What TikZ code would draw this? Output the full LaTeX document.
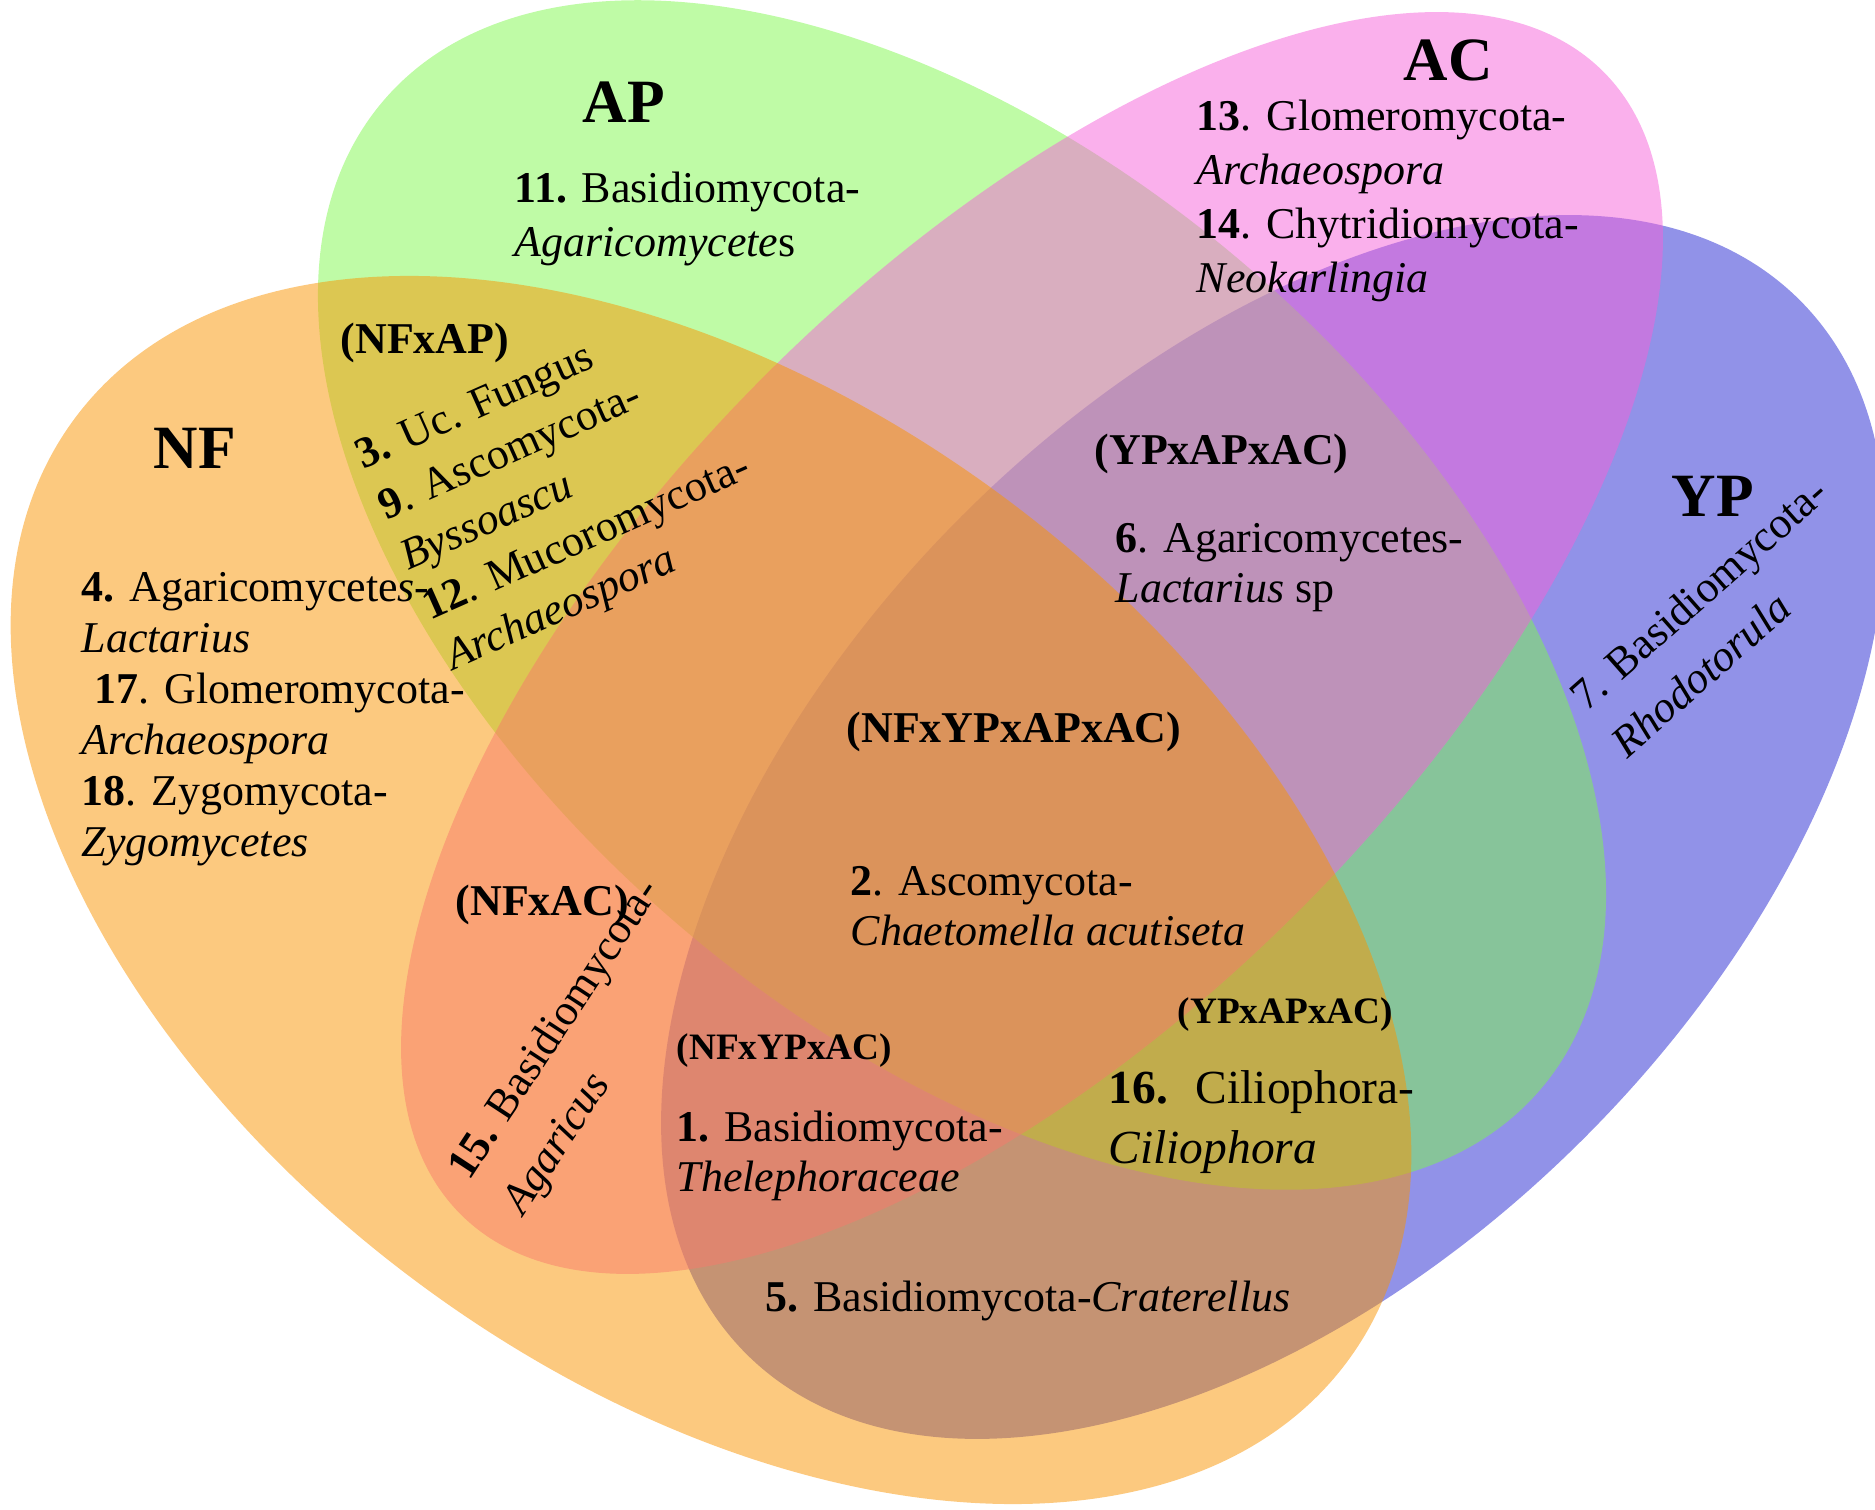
\documentclass[tikz,border=0pt]{standalone}
\usepackage{fontspec}
\setmainfont{Liberation Serif}
\usepackage{xcolor}
\usepackage{tikz}
\definecolor{nfcolor}{RGB}{250,148,0}
\definecolor{apcolor}{RGB}{127,247,77}
\definecolor{accolor}{RGB}{245,97,217}
\definecolor{ypcolor}{RGB}{35,37,209}
\tikzset{
    setarea/.style = {fill opacity=0.5, draw=none},
    setname/.style = {font=\fontsize{17.5}{20}\selectfont\bfseries, inner sep=0},
    overlap/.style = {font=\fontsize{12.5}{15}\selectfont\bfseries, inner sep=0, anchor=west},
    smalloverlap/.style = {font=\fontsize{10.6}{13}\selectfont\bfseries, inner sep=0, anchor=west},
    taxa/.style = {align=left, inner sep=0, anchor=north west, font=\fontsize{12.5}{14.5}\selectfont}
}

\begin{document}
\begin{tikzpicture}[x=0.01cm, y=-0.01cm]
    \useasboundingbox (0,0) rectangle (1875,1510);

    % Sets
    \fill [setarea, ypcolor, rotate around={45:(1273,827)}] (1273,827) ellipse [x radius=745, y radius=440];
    \fill [setarea, apcolor, rotate around={-40.5:(962,595)}] (962,595) ellipse [x radius=761, y radius=435];
    \fill [setarea, accolor, rotate around={45:(1032,643)}] (1032,643) ellipse [x radius=808, y radius=378];
    \fill [setarea, nfcolor, rotate around={-36.5:(711,890)}] (711,890) ellipse [x radius=792, y radius=490];

    % Set names
    \node [setname] (nf) at (195,448) {NF};
    \node [setname] (ap) at (624,102) {AP};
    \node [setname] (ac) at (1448,60) {AC};
    \node [setname] (yp) at (1713,496) {YP};

    % Intersections
    \node [overlap] (nfap) at (340,343) {(NFxAP)};
    \node [overlap] (ypapac) at (1094,454) {(YPxAPxAC)};
    \node [overlap] (nfypapac) at (846,732) {(NFxYPxAPxAC)};
    \node [overlap] (nfac) at (455,905) {(NFxAC)};
    \node [smalloverlap] (nfypac) at (676,1051) {(NFxYPxAC)};
    \node [smalloverlap] (ypapaclow) at (1177,1015) {(YPxAPxAC)};

    % Taxa
    \node [taxa, font=\fontsize{12.5}{15.4}\selectfont] (aplist) at (514,171) {
        \textbf{11.} Basidiomycota-\\
        \textit{Agaricomycete}s};
    \node [taxa, font=\fontsize{12.5}{15.4}\selectfont] (aclist) at (1196,99) {
        \textbf{13}. Glomeromycota-\\
        \textit{Archaeospora}\\
        \textbf{14}. Chytridiomycota-\\
        \textit{Neokarlingia}};
    \node [taxa] (nflist) at (81,572) {
        \textbf{4.} Agaricomycete\textit{s}-\\
        \textit{Lactarius}\\
        \hspace{0.3em}\textbf{17}. Glomeromycota-\\
        \textit{Archaeospora}\\
        \textbf{18}. Zygomycota-\\
        \textit{Zygomycetes}};
    \node [taxa, rotate=24, font=\fontsize{12.5}{15.6}\selectfont] (nfaplist) at (351,443) {
        \textbf{3.} Uc. Fungus\\
        \textbf{9}. Ascomycota-\\
        \textit{Byssoascu}\\
        \textbf{12}. Mucoromycota-\\
        \textit{Archaeospora}};
    \node [taxa, font=\fontsize{12.5}{14.2}\selectfont] (ypapaclist) at (1115,523) {
        \textbf{6}. Agaricomycetes-\\
        \textit{Lactarius} sp};
    \node [taxa, rotate=41.5, font=\fontsize{12.5}{17.6}\selectfont] (yplist) at (1565,690) {
        7. Basidiomycota-\\
        \textit{Rhodotorula}};
    \node [taxa, font=\fontsize{12.5}{14.2}\selectfont] (nfypapaclist) at (850,866) {
        \textbf{2}. Ascomycota-\\
        \textit{Chaetomella acutiseta}};
    \node [taxa, rotate=56.7, font=\fontsize{12.5}{18.3}\selectfont] (nfaclist) at (443,1165) {
        \textbf{15.} Basidiomycota-\\
        \textit{Agaricus}};
    \node [taxa, font=\fontsize{12.5}{14.2}\selectfont] (nfypaclist) at (676,1110) {
        \textbf{1.} Basidiomycota-\\
        \textit{Thelephoraceae}};
    \node [taxa, font=\fontsize{13.5}{17}\selectfont] (ypapaclowlist) at (1108,1070) {
        \textbf{16.}~ Ciliophora-\\
        \textit{Ciliophora}};
    \node [taxa, anchor=base west] (nfyplist) at (765,1312) {\textbf{5.} Basidiomycota-\textit{Craterellus}};
\end{tikzpicture}
\end{document}
